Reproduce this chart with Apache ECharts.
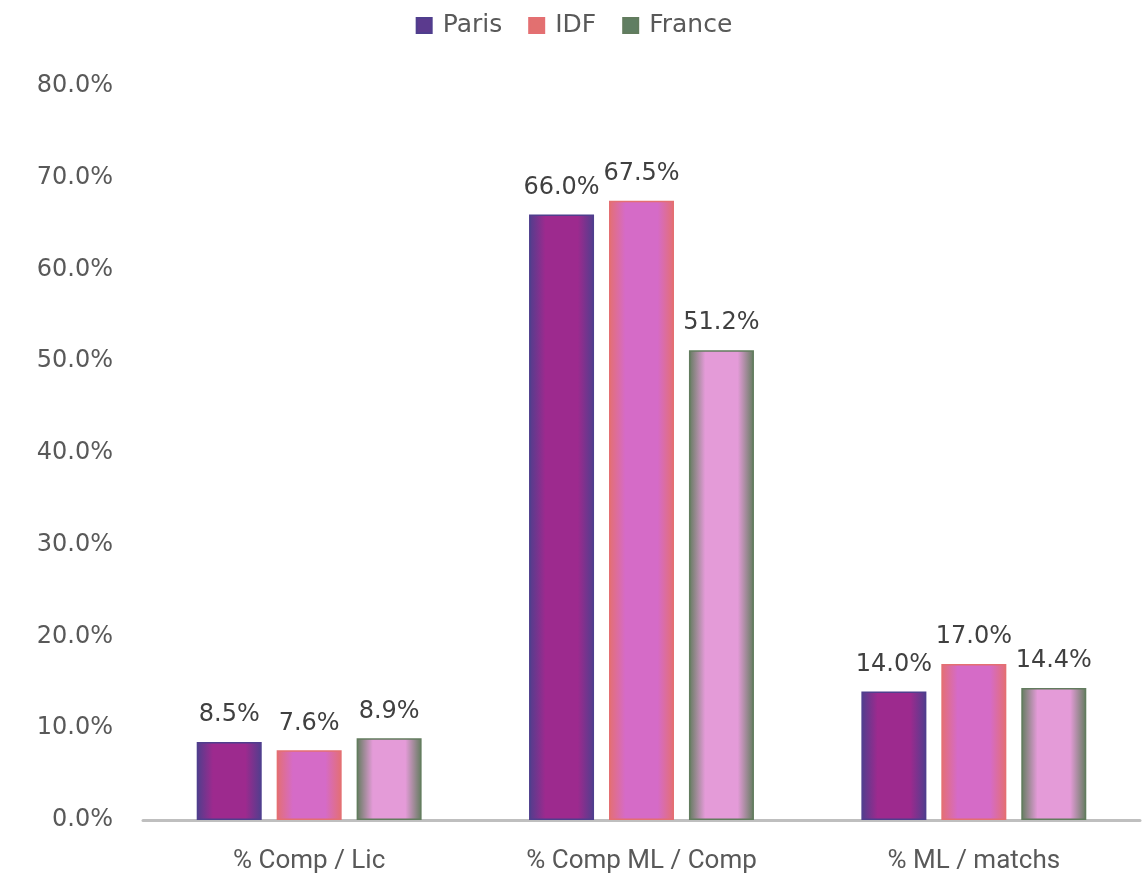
<!DOCTYPE html>
<html>
<head>
<meta charset="utf-8">
<script src="https://cdn.jsdelivr.net/npm/echarts@6/dist/echarts.min.js"></script>
<style>html,body{margin:0;padding:0;background:#fff}#c{width:1148px;height:876px}</style>
</head>
<body>
<div id="c"></div>
<script>
const categories = ['% Comp / Lic', '% Comp ML / Comp', '% ML / matchs'];
const seriesNames = ['Paris', 'IDF', 'France'];
const paris = [8.5, 66.0, 14.0];
const idf = [7.6, 67.5, 17.0];
const france = [8.9, 51.2, 14.4];
const yTicks = [0, 10, 20, 30, 40, 50, 60, 70, 80];

const centerColors = ['#9d2a8e', '#d56bc7', '#e49bd8'];
const edgeColors = ['#4f3e8d', '#e46f72', '#627c5e'];
const legendColors = ['#5b3a8e', '#e27070', '#607e62'];

function fill(i) {
  return new echarts.graphic.LinearGradient(0, 0, 1, 0, [
    {offset: 0, color: edgeColors[i]},
    {offset: 0.25, color: centerColors[i]},
    {offset: 0.75, color: centerColors[i]},
    {offset: 1, color: edgeColors[i]}
  ]);
}

const values = [paris, idf, france];
const chart = echarts.init(document.getElementById('c'));
chart.setOption({
  animation: false,
  legend: {
    top: 8,
    left: 'center',
    itemWidth: 15,
    itemHeight: 15,
    itemGap: 26,
    icon: 'rect',
    textStyle: {fontSize: 25, color: '#595959', fontFamily: 'DejaVu Sans', padding: [0, 0, 0, 6]},
    data: seriesNames.map((n, i) => ({name: n, itemStyle: {color: legendColors[i]}}))
  },
  grid: {left: 143, right: 8, top: 86, bottom: 56},
  xAxis: {
    type: 'category',
    data: categories,
    axisLine: {lineStyle: {color: '#bfbfbf', width: 3}},
    axisTick: {show: false},
    axisLabel: {fontSize: 26, color: '#595959', fontFamily: 'Roboto', margin: 28}
  },
  yAxis: {
    type: 'value',
    min: yTicks[0],
    max: yTicks[yTicks.length - 1],
    interval: 10,
    splitLine: {show: false},
    axisLine: {show: false},
    axisTick: {show: false},
    axisLabel: {fontSize: 24, color: '#595959', fontFamily: 'DejaVu Sans', margin: 30, formatter: v => v.toFixed(1) + '%'}
  },
  series: seriesNames.map((n, i) => ({
    name: n,
    type: 'bar',
    data: values[i],
    barWidth: 65,
    barGap: '23%',
    itemStyle: {color: fill(i), borderColor: edgeColors[i], borderWidth: 1.5},
    label: {
      show: true,
      position: 'top',
      distance: 15,
      fontSize: 24,
      color: '#404040',
      fontFamily: 'DejaVu Sans',
      formatter: p => p.value.toFixed(1) + '%'
    }
  }))
});
</script>
</body>
</html>
